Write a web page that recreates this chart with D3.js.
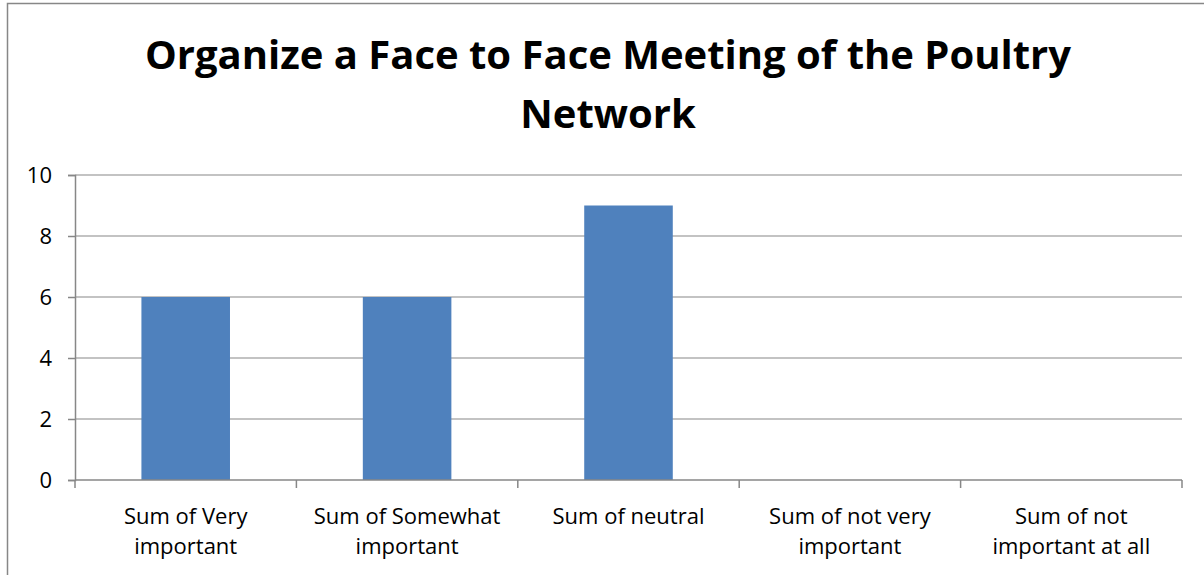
<!DOCTYPE html>
<html>
<head>
<meta charset="utf-8">
<script src="https://cdn.jsdelivr.net/npm/d3@7"></script>
<style>
  body { margin: 0; background: #fff; }
  svg { display: block; }
</style>
</head>
<body>
<div id="chart"></div>
<script>
// chart values
var categories = ["Sum of Very important", "Sum of Somewhat important", "Sum of neutral",
                  "Sum of not very important", "Sum of not important at all"];
var tickLines = [["Sum of Very", "important"], ["Sum of Somewhat", "important"], ["Sum of neutral"],
                 ["Sum of not very", "important"], ["Sum of not", "important at all"]];
var values = [6, 6, 9, 0, 0];
var yTicks = [0, 2, 4, 6, 8, 10];
var titleLines = ["Organize a Face to Face Meeting of the Poultry", "Network"];

var W = 1204, H = 575;
var margin = {top: 175, right: 22, bottom: 95, left: 75},
    width = W - margin.left - margin.right,
    height = H - margin.top - margin.bottom;
var grey = "#878787";
var font = "'Open Sans', 'Noto Sans', sans-serif";

var svg = d3.select("#chart").append("svg")
    .attr("width", W)
    .attr("height", H);

// outer chart border
svg.append("rect")
    .attr("x", 7.5).attr("y", 3.5)
    .attr("width", W + 10).attr("height", H + 10)
    .style("fill", "none")
    .style("stroke", grey)
    .style("stroke-width", 1.5);

var g = svg.append("g")
    .attr("transform", "translate(" + margin.left + "," + margin.top + ")");

var x = d3.scaleBand()
    .domain(categories)
    .range([0, width])
    .paddingInner(0.6)
    .paddingOuter(0.3);

var y = d3.scaleLinear()
    .domain([0, 10])
    .range([height, 0]);

// gridlines
g.selectAll(".grid")
    .data(yTicks.filter(function(d) { return d > 0; }))
    .enter().append("line")
    .attr("x1", 0).attr("x2", width)
    .attr("y1", function(d) { return y(d); })
    .attr("y2", function(d) { return y(d); })
    .style("stroke", grey)
    .style("stroke-width", 1.2);

// bars
g.selectAll(".bar")
    .data(values)
    .enter().append("rect")
    .attr("x", function(d, i) { return x(categories[i]); })
    .attr("y", function(d) { return y(d); })
    .attr("width", x.bandwidth())
    .attr("height", function(d) { return height - y(d); })
    .style("fill", "#4F81BD");

// Y axis
var gY = g.append("g")
    .call(d3.axisLeft(y).tickValues(yTicks).tickSize(7).tickPadding(16));
gY.selectAll("line, path").style("stroke", grey).style("stroke-width", 1.5);
gY.selectAll("text")
    .style("font-family", font)
    .style("font-size", "22px")
    .style("fill", "#000");

// X axis: ticks at category boundaries
var step = x.step();
var gX = g.append("g")
    .attr("transform", "translate(0," + height + ")");
gX.append("line")
    .attr("x1", 0).attr("x2", width)
    .style("stroke", grey).style("stroke-width", 1.5);
gX.selectAll(".tick")
    .data(d3.range(categories.length + 1))
    .enter().append("line")
    .attr("x1", function(i) { return i * step; })
    .attr("x2", function(i) { return i * step; })
    .attr("y1", 0).attr("y2", 8)
    .style("stroke", grey).style("stroke-width", 1.5);

gX.selectAll(".label")
    .data(categories)
    .enter().append("text")
    .attr("x", function(d) { return x(d) + x.bandwidth() / 2; })
    .attr("y", 44)
    .attr("text-anchor", "middle")
    .style("font-family", font)
    .style("font-size", "22px")
    .style("fill", "#000")
    .selectAll("tspan")
    .data(function(d, i) { return tickLines[i]; })
    .enter().append("tspan")
    .attr("x", function() { return d3.select(this.parentNode).attr("x"); })
    .attr("dy", function(d, i) { return i === 0 ? 0 : 30; })
    .text(function(d) { return d; });

// title
svg.selectAll(".title")
    .data(titleLines)
    .enter().append("text")
    .attr("x", 608)
    .attr("y", function(d, i) { return 69 + i * 59; })
    .attr("text-anchor", "middle")
    .style("font-family", font)
    .style("font-weight", "bold")
    .style("font-size", "40px")
    .style("fill", "#000")
    .text(function(d) { return d; });
</script>
</body>
</html>
